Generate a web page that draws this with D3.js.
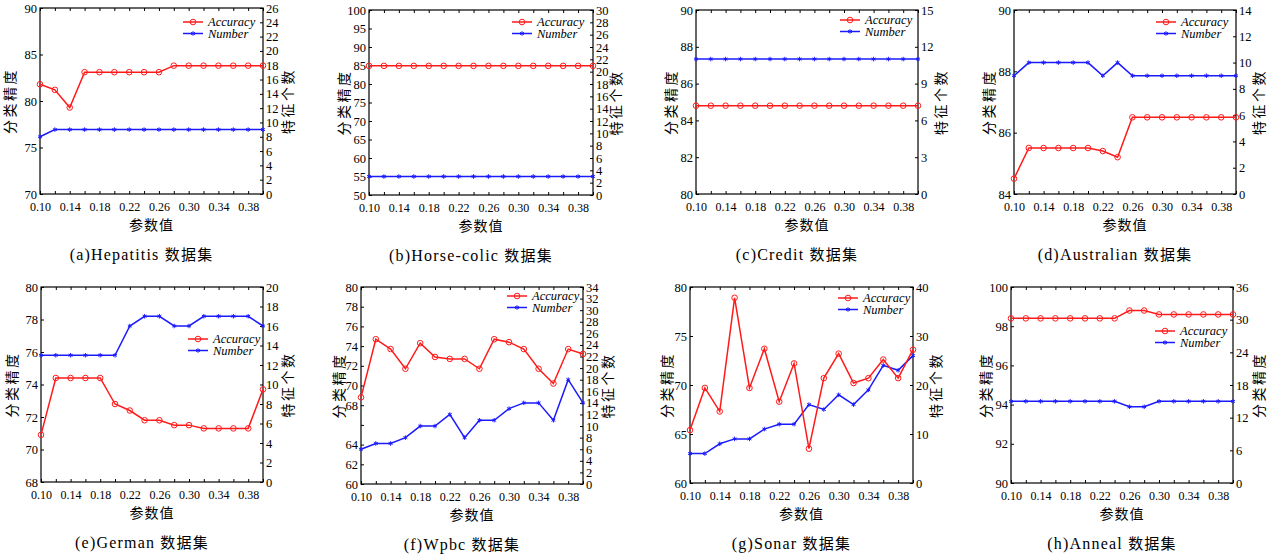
<!DOCTYPE html>
<html>
<head>
<meta charset="utf-8">
<script src="https://cdn.jsdelivr.net/npm/d3@7/dist/d3.min.js"></script>
<style>
	body { margin: 0; background: #fff; }
	svg { display: block; }
	text, tspan { font-family: "Liberation Serif", "Times New Roman", "DejaVu Serif", serif; fill: #000; }
	.cjk { font-family: "Noto Sans CJK SC", sans-serif; }
</style>
</head>
<body>
<div id="chart"></div>
<script>
/* DATA */

// parameter values on the x axis (shared by every panel)
var paramValues = [ 0.10, 0.12, 0.14, 0.16, 0.18, 0.20, 0.22, 0.24, 0.26, 0.28, 0.30, 0.32, 0.34, 0.36, 0.38, 0.40 ];
var xTickLabels = [ "0.10", "0.14", "0.18", "0.22", "0.26", "0.30", "0.34", "0.38" ];

// panel names
var panelLetters = [ "a", "b", "c", "d", "e", "f", "g", "h" ];
var datasetNames = [ "Hepatitis", "Horse-colic", "Credit", "Australian", "German", "Wpbc", "Sonar", "Anneal" ];

// accuracy series (left axis)
var hepatitisAcc = [ 81.8, 81.2, 79.3, 83.1, 83.1, 83.1, 83.1, 83.1, 83.1, 83.8, 83.8, 83.8, 83.8, 83.8, 83.8, 83.8 ];
var horseColicAcc = [ 84.9, 84.9, 84.9, 84.9, 84.9, 84.9, 84.9, 84.9, 84.9, 84.9, 84.9, 84.9, 84.9, 84.9, 84.9, 84.9 ];
var creditAcc = [ 84.8, 84.8, 84.8, 84.8, 84.8, 84.8, 84.8, 84.8, 84.8, 84.8, 84.8, 84.8, 84.8, 84.8, 84.8, 84.8 ];
var australianAcc = [ 84.5, 85.5, 85.5, 85.5, 85.5, 85.5, 85.4, 85.2, 86.5, 86.5, 86.5, 86.5, 86.5, 86.5, 86.5, 86.5 ];
var germanAcc = [ 70.9, 74.4, 74.4, 74.4, 74.4, 72.8, 72.4, 71.8, 71.8, 71.5, 71.5, 71.3, 71.3, 71.3, 71.3, 73.7 ];
var wpbcAcc = [ 68.8, 74.7, 73.7, 71.7, 74.3, 72.9, 72.7, 72.7, 71.7, 74.7, 74.4, 73.7, 71.7, 70.2, 73.7, 73.2 ];
var sonarAcc = [ 65.4, 69.7, 67.3, 78.9, 69.7, 73.7, 68.3, 72.2, 63.5, 70.7, 73.2, 70.2, 70.7, 72.6, 70.7, 73.6 ];
var annealAcc = [ 98.4, 98.4, 98.4, 98.4, 98.4, 98.4, 98.4, 98.4, 98.8, 98.8, 98.6, 98.6, 98.6, 98.6, 98.6, 98.6 ];

// number of features (right axis)
var hepatitisNum = [ 8, 9, 9, 9, 9, 9, 9, 9, 9, 9, 9, 9, 9, 9, 9, 9 ];
var horseColicNum = [ 3, 3, 3, 3, 3, 3, 3, 3, 3, 3, 3, 3, 3, 3, 3, 3 ];
var creditNum = [ 11, 11, 11, 11, 11, 11, 11, 11, 11, 11, 11, 11, 11, 11, 11, 11 ];
var australianNum = [ 9, 10, 10, 10, 10, 10, 9, 10, 9, 9, 9, 9, 9, 9, 9, 9 ];
var germanNum = [ 13, 13, 13, 13, 13, 13, 16, 17, 17, 16, 16, 17, 17, 17, 17, 16 ];
var wpbcNum = [ 6, 7, 7, 8, 10, 10, 12, 8, 11, 11, 13, 14, 14, 11, 18, 14 ];
var sonarNum = [ 6, 6, 8, 9, 9, 11, 12, 12, 16, 15, 18, 16, 19, 24, 23, 26 ];
var annealNum = [ 15, 15, 15, 15, 15, 15, 15, 15, 14, 14, 15, 15, 15, 15, 15, 15 ];

var accSeries = [ hepatitisAcc, horseColicAcc, creditAcc, australianAcc, germanAcc, wpbcAcc, sonarAcc, annealAcc ];
var numSeries = [ hepatitisNum, horseColicNum, creditNum, australianNum, germanNum, wpbcNum, sonarNum, annealNum ];

// axis ranges + tick steps
var leftDomains = [ [ 70, 90 ], [ 50, 100 ], [ 80, 90 ], [ 84, 90 ], [ 68, 80 ], [ 60, 80 ], [ 60, 80 ], [ 90, 100 ] ];
var leftSteps = [ 5, 5, 2, 2, 2, 2, 5, 2 ];
var rightDomains = [ [ 0, 26 ], [ 0, 30 ], [ 0, 15 ], [ 0, 14 ], [ 0, 20 ], [ 0, 34 ], [ 0, 40 ], [ 0, 36 ] ];
var rightSteps = [ 2, 2, 3, 2, 2, 2, 10, 6 ];
var hiddenLeftTicks = [ [], [], [], [], [], [ 66 ], [], [] ]; // wpbc figure has no "66" label

// axis titles
var leftTitles = [ "分类精度", "分类精度", "分类精度", "分类精度", "分类精度", "分类精度", "分类精度", "分类精度" ];
var rightTitles = [ "特征个数", "特征个数", "特征个数", "特征个数", "特征个数", "特征个数", "特征个数", "分类精度" ];
var xTitle = "参数值";
var seriesNames = [ "Accuracy", "Number" ];

/* LAYOUT (pixel boxes of each plot area) */
var panelBoxes = [
	{ left: 40, top: 8, right: 263, bottom: 194 },
	{ left: 369, top: 10, right: 593, bottom: 195 },
	{ left: 696, top: 10, right: 918, bottom: 194 },
	{ left: 1014, top: 10, right: 1236, bottom: 194 },
	{ left: 41, top: 287, right: 263, bottom: 482 },
	{ left: 361, top: 287, right: 583, bottom: 484 },
	{ left: 690, top: 287, right: 913, bottom: 483 },
	{ left: 1011, top: 287, right: 1233, bottom: 483 }
];
// legend offsets from the plot's top-right corner
var legendSpots = [
	{ dx: -80, dy: 14 }, { dx: -81, dy: 12 }, { dx: -78, dy: 10 }, { dx: -80, dy: 12 },
	{ dx: -75, dy: 52 }, { dx: -76, dy: 9 }, { dx: -75, dy: 11 }, { dx: -78, dy: 44 }
];
var leftTitleGap = [ 30, 25, 25, 25, 29, 22, 23, 25 ];
var rightTitleGap = [ 25, 23, 23, 23, 25, 25, 23, 26 ];

var red = "#ff1a1a",
	blue = "#1a1aff",
	serif = "'Liberation Serif', 'Times New Roman', 'DejaVu Serif', serif";

var svg = d3.select( "#chart" ).append( "svg" )
	.attr( "width", 1277 )
	.attr( "height", 557 );

// build each panel
panelBoxes.forEach( function ( box, p ) {
	var g = svg.append( "g" );
	var w = box.right - box.left,
		h = box.bottom - box.top;

	var x = d3.scaleLinear().domain( [ paramValues[ 0 ], paramValues[ paramValues.length - 1 ] ] ).range( [ box.left, box.right ] );
	var yL = d3.scaleLinear().domain( leftDomains[ p ] ).range( [ box.bottom, box.top ] );
	var yR = d3.scaleLinear().domain( rightDomains[ p ] ).range( [ box.bottom, box.top ] );

	var leftTicks = d3.range( leftDomains[ p ][ 0 ], leftDomains[ p ][ 1 ] + 0.001, leftSteps[ p ] );
	var rightTicks = d3.range( rightDomains[ p ][ 0 ], rightDomains[ p ][ 1 ] + 0.001, rightSteps[ p ] );

	// bottom axis (inward ticks)
	g.append( "g" )
		.attr( "transform", "translate(0," + box.bottom + ")" )
		.call( d3.axisBottom( x ).tickValues( paramValues ).tickSizeInner( -3 ).tickSizeOuter( 0 )
			.tickFormat( function ( d ) {
				var s = d.toFixed( 2 );
				return xTickLabels.indexOf( s ) >= 0 ? s : "";
			} ) )
		.call( function ( a ) {
			a.attr( "font-family", serif ).attr( "font-size", 12 );
			a.select( ".domain" ).remove();
			a.selectAll( "text" ).attr( "y", 8.5 ).attr( "dy", "0.71em" );
		} );

	// top axis ticks
	g.append( "g" )
		.attr( "transform", "translate(0," + box.top + ")" )
		.call( d3.axisTop( x ).tickValues( paramValues ).tickSizeInner( -3 ).tickSizeOuter( 0 ).tickFormat( "" ) )
		.call( function ( a ) { a.select( ".domain" ).remove(); } );

	// left axis
	g.append( "g" )
		.attr( "transform", "translate(" + box.left + ",0)" )
		.call( d3.axisLeft( yL ).tickValues( leftTicks ).tickSizeInner( -3 ).tickSizeOuter( 0 )
			.tickFormat( function ( d ) {
				return hiddenLeftTicks[ p ].indexOf( d ) >= 0 ? "" : d;
			} ) )
		.call( function ( a ) {
			a.attr( "font-family", serif ).attr( "font-size", 12.5 );
			a.select( ".domain" ).remove();
			a.selectAll( "text" ).attr( "x", -3 );
		} );

	// right axis
	g.append( "g" )
		.attr( "transform", "translate(" + box.right + ",0)" )
		.call( d3.axisRight( yR ).tickValues( rightTicks ).tickSizeInner( -3 ).tickSizeOuter( 0 ) )
		.call( function ( a ) {
			a.attr( "font-family", serif ).attr( "font-size", 12.5 );
			a.select( ".domain" ).remove();
			a.selectAll( "text" ).attr( "x", 3 );
		} );

	// frame
	g.append( "rect" )
		.attr( "x", box.left )
		.attr( "y", box.top )
		.attr( "width", w )
		.attr( "height", h )
		.attr( "fill", "none" )
		.attr( "stroke", "#000" )
		.attr( "stroke-width", 1.2 );

	// axis titles
	var midY = ( box.top + box.bottom ) / 2;
	g.append( "text" )
		.attr( "class", "cjk" )
		.attr( "transform", "translate(" + ( box.left - leftTitleGap[ p ] ) + "," + midY + ") rotate(-90)" )
		.attr( "text-anchor", "middle" )
		.attr( "dy", "0.35em" )
		.style( "font-size", "14px" )
		.style( "letter-spacing", "2.5px" )
		.text( leftTitles[ p ] );

	g.append( "text" )
		.attr( "class", "cjk" )
		.attr( "transform", "translate(" + ( box.right + rightTitleGap[ p ] ) + "," + midY + ") rotate(-90)" )
		.attr( "text-anchor", "middle" )
		.attr( "dy", "0.35em" )
		.style( "font-size", "14px" )
		.style( "letter-spacing", "2.5px" )
		.text( rightTitles[ p ] );

	g.append( "text" )
		.attr( "class", "cjk" )
		.attr( "x", ( box.left + box.right ) / 2 )
		.attr( "y", box.bottom + 36 )
		.attr( "text-anchor", "middle" )
		.style( "font-size", "14px" )
		.style( "letter-spacing", "1px" )
		.text( xTitle );

	// caption under panel
	var cap = g.append( "text" )
		.attr( "x", ( box.left + box.right ) / 2 - 10 )
		.attr( "y", box.bottom + 66 )
		.attr( "text-anchor", "middle" )
		.style( "font-size", "16px" )
		.style( "letter-spacing", "1.2px" );
	cap.append( "tspan" ).text( "(" + panelLetters[ p ] + ")" + datasetNames[ p ] + " " );
	cap.append( "tspan" ).attr( "class", "cjk" ).style( "font-size", "15px" ).text( "数据集" );

	// lines
	var accLine = d3.line()
		.x( function ( d, i ) { return x( paramValues[ i ] ); } )
		.y( function ( d ) { return yL( d ); } );
	var numLine = d3.line()
		.x( function ( d, i ) { return x( paramValues[ i ] ); } )
		.y( function ( d ) { return yR( d ); } );

	g.append( "path" )
		.datum( numSeries[ p ] )
		.attr( "d", numLine )
		.attr( "fill", "none" )
		.attr( "stroke", blue )
		.attr( "stroke-width", 1.5 );

	g.selectAll( ".num-mark" )
		.data( numSeries[ p ] )
		.enter().append( "path" )
		.attr( "class", "num-mark" )
		.attr( "d", d3.symbol().type( d3.symbolAsterisk ).size( 14 ) )
		.attr( "transform", function ( d, i ) { return "translate(" + x( paramValues[ i ] ) + "," + yR( d ) + ")"; } )
		.attr( "fill", "none" )
		.attr( "stroke", blue )
		.attr( "stroke-width", 1 );

	g.append( "path" )
		.datum( accSeries[ p ] )
		.attr( "d", accLine )
		.attr( "fill", "none" )
		.attr( "stroke", red )
		.attr( "stroke-width", 1.5 );

	g.selectAll( ".acc-mark" )
		.data( accSeries[ p ] )
		.enter().append( "circle" )
		.attr( "class", "acc-mark" )
		.attr( "cx", function ( d, i ) { return x( paramValues[ i ] ); } )
		.attr( "cy", function ( d ) { return yL( d ); } )
		.attr( "r", 2.8 )
		.attr( "fill", "none" )
		.attr( "stroke", red )
		.attr( "stroke-width", 1 );

	// legend
	var lx = box.right + legendSpots[ p ].dx,
		ly = box.top + legendSpots[ p ].dy;
	[ red, blue ].forEach( function ( c, k ) {
		var yy = ly + k * 11.5;
		g.append( "line" )
			.attr( "x1", lx ).attr( "x2", lx + 20 )
			.attr( "y1", yy ).attr( "y2", yy )
			.attr( "stroke", c )
			.attr( "stroke-width", 1.5 );
		if ( k === 0 ) {
			g.append( "circle" )
				.attr( "cx", lx + 10 ).attr( "cy", yy ).attr( "r", 2.8 )
				.attr( "fill", "none" ).attr( "stroke", c ).attr( "stroke-width", 1 );
		} else {
			g.append( "path" )
				.attr( "d", d3.symbol().type( d3.symbolAsterisk ).size( 14 ) )
				.attr( "transform", "translate(" + ( lx + 10 ) + "," + yy + ")" )
				.attr( "fill", "none" ).attr( "stroke", c ).attr( "stroke-width", 1 );
		}
		g.append( "text" )
			.attr( "x", lx + 25 )
			.attr( "y", yy )
			.attr( "dy", "0.35em" )
			.style( "font-size", "12.5px" )
			.style( "font-style", "italic" )
			.text( seriesNames[ k ] );
	} );
} );
</script>
</body>
</html>
